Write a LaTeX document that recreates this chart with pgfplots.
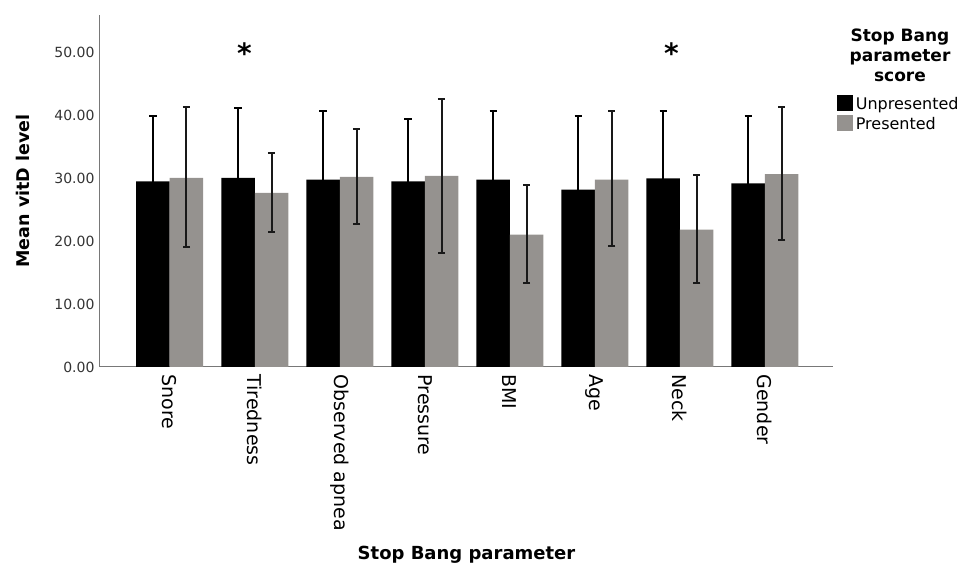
\documentclass[border=0pt]{standalone}
\usepackage{fontspec}
\setmainfont{DejaVu Sans}
\usepackage{pgfplots}
\pgfplotsset{compat=1.18}
\usepackage{pgfplotstable}
\definecolor{barGray}{RGB}{149,146,143}
\definecolor{axGray}{RGB}{120,120,120}
\definecolor{errCol}{RGB}{25,25,25}

\pgfplotstableread{
x y ep em
0 29.55 10.35 10.35
1 30.10 11.10 11.10
2 29.80 11.00 11.00
3 29.55 9.85 9.85
4 29.80 10.90 10.90
5 28.20 11.70 11.70
6 30.00 10.80 10.80
7 29.20 10.80 10.80
}\unpres

\pgfplotstableread{
x y ep em
0 30.10 11.30 11.00
1 27.70 6.40 6.20
2 30.25 7.65 7.45
3 30.40 12.30 12.20
4 21.05 7.85 7.65
5 29.80 10.90 10.55
6 21.85 8.65 8.55
7 30.70 10.70 10.45
}\pres

\begin{document}
\begin{tikzpicture}
\begin{axis}[
  at={(0pt,0pt)}, anchor=south west,
  scale only axis, width=733pt, height=352pt,
  xmin=-0.82, xmax=7.8, ymin=0, ymax=56,
  axis x line*=bottom, axis y line*=left,
  axis line style={-, draw=axGray, line width=1pt},
  major tick length=0pt,
  clip=false,
  xtick={0,...,7},
  xticklabels={Snore,Tiredness,Observed apnea,Pressure,BMI,Age,Neck,Gender},
  x tick label style={rotate=-90, anchor=west, font=\fontsize{19}{21}\selectfont, xshift=4pt},
  ytick={0,10,20,30,40,50},
  y tick label style={/pgf/number format/fixed, /pgf/number format/fixed zerofill,
    /pgf/number format/precision=2, /pgf/number format/assume math mode=true,
    font=\fontsize{14}{15}\selectfont, text=black!80, xshift=-2pt},
  xlabel={Stop Bang parameter},
  xlabel style={font=\bfseries\fontsize{18}{20}\selectfont, at={(rel axis cs:0.5,0)}, anchor=center, yshift=-188pt},
  ylabel={Mean vitD level},
  ylabel style={font=\bfseries\fontsize{17.5}{19}\selectfont, at={(rel axis cs:0,0.5)}, anchor=center, yshift=77pt},
  legend style={at={(rel axis cs:1.005,0.774)}, anchor=north west, draw=none, fill=none,
    font=\fontsize{16}{18}\selectfont, inner sep=0pt, row sep=3.5pt,
    nodes={inner xsep=3pt, inner ysep=1pt}},
  legend cell align=left,
  legend image code/.code={\fill[#1] (0pt,-7pt) rectangle (16pt,9pt);},
  error bars/y dir=both,
  error bars/y explicit,
]
\addplot[ybar, bar width=0.394, bar shift=0, fill=black, draw=none,
  error bars/error bar style={line width=2pt, black},
  error bars/error mark options={rotate=90, mark size=3.6pt, line width=2pt, black}]
  table[x expr=\thisrow{x}-0.197, y=y, y error plus=ep, y error minus=em]{\unpres};
\addlegendentry{Unpresented}
\addplot[ybar, bar width=0.394, bar shift=0, fill=barGray, draw=none,
  error bars/error bar style={line width=2pt, errCol},
  error bars/error mark options={rotate=90, mark size=3.6pt, line width=2pt, errCol}]
  table[x expr=\thisrow{x}+0.197, y=y, y error plus=ep, y error minus=em]{\pres};
\addlegendentry{Presented}

\node[font=\bfseries\fontsize{28}{28}\selectfont, anchor=base] at (axis cs:0.88,48.3) {*};
\node[font=\bfseries\fontsize{28}{28}\selectfont, anchor=base] at (axis cs:5.9,48.3) {*};
\node[align=center, font=\bfseries\fontsize{17}{20}\selectfont] at (rel axis cs:1.0914,0.886)
  {Stop Bang\\parameter\\score};
\end{axis}
\pgfresetboundingbox
\path (-100pt,-202pt) rectangle (861pt,367pt);
\end{tikzpicture}
\end{document}
